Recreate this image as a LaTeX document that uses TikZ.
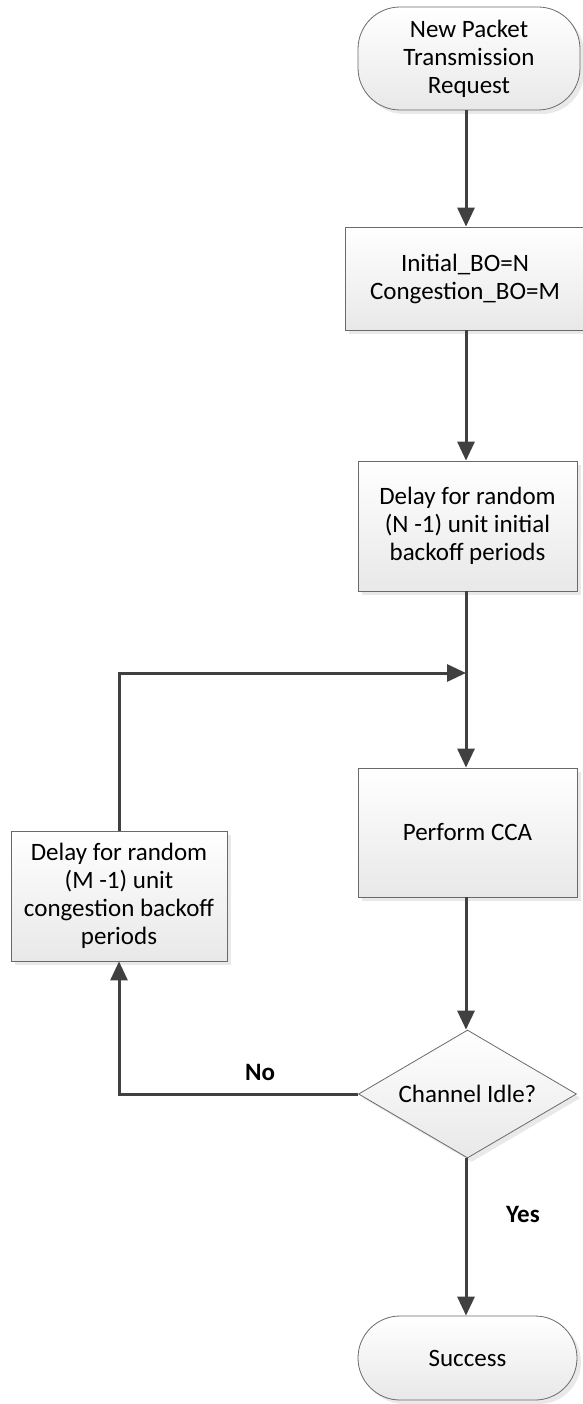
\documentclass[tikz,border=0pt]{standalone}
\usepackage{fontspec}
\setmainfont{Carlito}
\usetikzlibrary{arrows.meta,shapes.geometric,shadows}

\definecolor{flowline}{HTML}{404040}
\definecolor{edgegray}{HTML}{6A6A6A}

\tikzset{
  every node/.style={font=\fontsize{25}{28}\selectfont, text=black, align=center},
  shaded/.style={draw=edgegray, line width=0.8pt, top color=white, bottom color=black!9,
    drop shadow={shadow xshift=4pt, shadow yshift=-4pt, fill=black!17}},
  procbox/.style={shaded, rectangle, inner sep=0pt},
  termbox/.style={shaded, rectangle, rounded corners=42pt, inner sep=0pt},
  decbox/.style={shaded, diamond, aspect=1.7, inner sep=0pt},
  flow/.style={draw=flowline, line width=3pt, -{Triangle[length=19pt,width=17pt]}},
  flowlbl/.style={font=\bfseries\fontsize{25}{28}\selectfont}
}

\begin{document}
\begin{tikzpicture}[x=1pt, y=-1pt]
  \useasboundingbox (0,0) rectangle (582,1404);

  \node[termbox, minimum width=222pt, minimum height=103pt] (start) at (469,58.5)
    {New Packet\\Transmission\\Request};
  \node[procbox, minimum width=240pt, minimum height=103pt] (init) at (465,278.5)
    {Initial\_BO=N\\Congestion\_BO=M};
  \node[procbox, minimum width=219pt, minimum height=130pt] (initdelay) at (467.5,526)
    {Delay for random\\(N -1) unit initial\\backoff periods};
  \node[procbox, minimum width=219pt, minimum height=129pt] (cca) at (467.5,832.5)
    {Perform CCA};
  \node[decbox, minimum width=218pt, minimum height=128pt] (idle) at (467.5,1094)
    {Channel Idle?};
  \node[termbox, minimum width=219pt, minimum height=84pt] (success) at (467.5,1358)
    {Success};
  \node[procbox, minimum width=216pt, minimum height=130pt] (congdelay) at (119,896)
    {Delay for random\\(M -1) unit\\congestion backoff\\periods};

  \coordinate (merge) at (466,673);

  \draw[flow] (start.south -| 466,0) -- (init.north -| 466,0);
  \draw[flow] (init.south -| 466,0) -- (initdelay.north -| 466,0);
  \draw[flow] (initdelay.south -| 466,0) -- (cca.north -| 466,0);
  \draw[flow] (congdelay.north) |- (merge);
  \draw[flow] (cca.south -| 466,0) -- (idle.north -| 466,0);
  \draw[flow] (idle.west) -| (congdelay.south);
  \draw[flow] (idle.south -| 466,0) -- (success.north -| 466,0);

  \node[flowlbl] (nolbl) at (260,1072) {No};
  \node[flowlbl] (yeslbl) at (523,1214) {Yes};
\end{tikzpicture}
\end{document}
